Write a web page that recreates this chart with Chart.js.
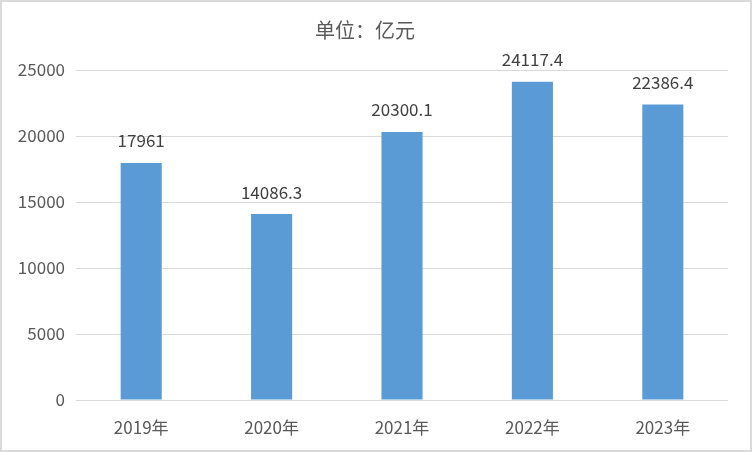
<!DOCTYPE html>
<html>
<head>
<meta charset="utf-8">
<script src="https://cdn.jsdelivr.net/npm/chart.js@4/dist/chart.umd.min.js"></script>
<style>
    body { margin: 0; background: #fff; }
    #wrap { width: 752px; height: 452px; box-sizing: border-box; border: 2px solid #d9d9d9; background: #fff; }
</style>
</head>
<body>
<div id="wrap"><canvas id="chart" width="748" height="448"></canvas></div>
<script>
const anos = ['2019年', '2020年', '2021年', '2022年', '2023年'];
const valores = [17961, 14086.3, 20300.1, 24117.4, 22386.4];
const rotulos = ['17961', '14086.3', '20300.1', '24117.4', '22386.4'];

const FONTE = '"Noto Sans CJK SC", "Noto Sans", sans-serif';

// rótulos de dados acima das barras
const rotulosPlugin = {
    id: 'rotulos',
    afterDatasetsDraw(chart) {
        const ctx = chart.ctx;
        const meta = chart.getDatasetMeta(0);
        ctx.save();
        ctx.font = '17px ' + FONTE;
        ctx.fillStyle = '#404040';
        ctx.textAlign = 'center';
        ctx.textBaseline = 'middle';
        meta.data.forEach(function(bar, i) {
            ctx.fillText(rotulos[i], bar.x, bar.y - 22);
        });
        ctx.restore();
    }
};

const ctx = document.getElementById('chart').getContext('2d');
new Chart(ctx, {
    type: 'bar',
    data: {
        labels: anos,
        datasets: [{
            data: valores,
            backgroundColor: '#5B9BD5',
            borderWidth: 0,
            barPercentage: 0.63,
            categoryPercentage: 0.5
        }]
    },
    options: {
        responsive: false,
        animation: false,
        layout: { padding: { left: 0, right: 22, top: 0, bottom: 0 } },
        plugins: {
            legend: { display: false },
            tooltip: { enabled: false },
            title: {
                display: true,
                text: '单位：亿元',
                color: '#595959',
                font: { family: FONTE, size: 20, weight: 'normal', lineHeight: 1.2 },
                padding: { top: 16, bottom: 28 }
            }
        },
        scales: {
            x: {
                grid: { display: false },
                border: { display: false },
                ticks: {
                    color: '#595959',
                    font: { family: FONTE, size: 17 },
                    padding: 9
                },
                afterFit: function(scale) { scale.height = 50; }
            },
            y: {
                min: 0,
                max: 25000,
                border: { display: false },
                grid: { color: '#d9d9d9', lineWidth: 1, drawTicks: false },
                ticks: {
                    stepSize: 5000,
                    color: '#595959',
                    font: { family: FONTE, size: 17 },
                    padding: 11,
                    callback: function(value) { return String(value); }
                },
                afterFit: function(scale) { scale.width = 74; }
            }
        }
    },
    plugins: [rotulosPlugin]
});
</script>
</body>
</html>
